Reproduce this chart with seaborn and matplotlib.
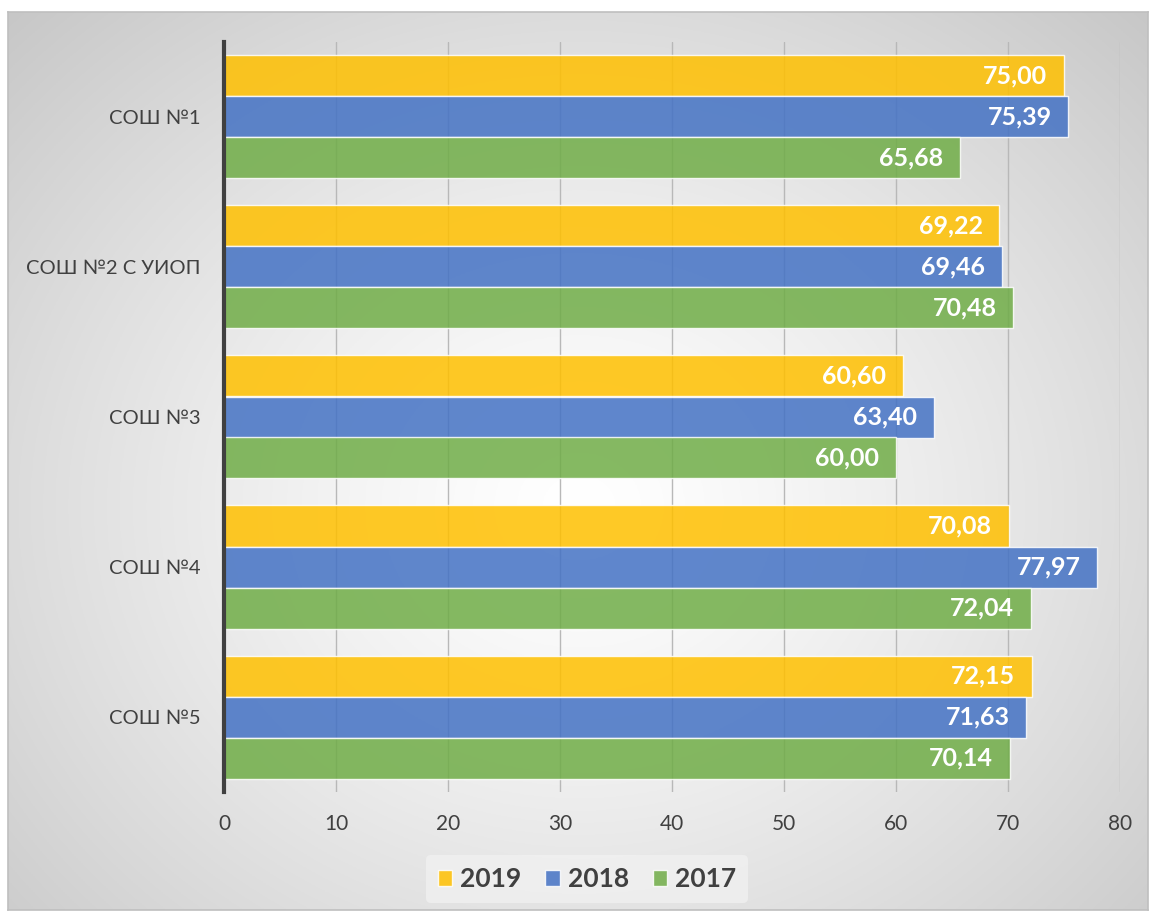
import numpy as np
import pandas as pd
import matplotlib
matplotlib.use("Agg")
import matplotlib.pyplot as plt
import seaborn as sns

categories = ["СОШ №1", "СОШ №2 С УИОП", "СОШ №3", "СОШ №4", "СОШ №5"]
years = ["2019", "2018", "2017"]
v2019 = [75.00, 69.22, 60.60, 70.08, 72.15]
v2018 = [75.39, 69.46, 63.40, 77.97, 71.63]
v2017 = [65.68, 70.48, 60.00, 72.04, 70.14]
colors = ["#FFC000", "#4472C4", "#70AD47"]
xticks = [0, 10, 20, 30, 40, 50, 60, 70, 80]

rows = []
for yr, vals in zip(years, [v2019, v2018, v2017]):
    for c, v in zip(categories, vals):
        rows.append({"school": c, "year": yr, "value": v})
df = pd.DataFrame(rows)

sns.set_theme(style="white")
plt.rcParams["font.family"] = ["Lato", "DejaVu Sans"]

W, H = 1151, 913
fig = plt.figure(figsize=(W / 100, H / 100), dpi=100)

# Background frame with radial gradient
bg = fig.add_axes([8 / W, 1 - 910 / H, 1140 / W, 898 / H], zorder=-5)
ny, nx = 400, 500
yy, xx = np.mgrid[0:ny, 0:nx]
cx, cy = nx * 0.5, ny * 0.55
r = np.sqrt(((xx - cx) / (nx * 0.5)) ** 2 + ((yy - cy) / (ny * 0.55)) ** 2) / np.sqrt(2)
r = np.clip(r, 0, 1)
val = 1.0 - 0.22 * r ** 1.3
bg.imshow(np.dstack([val, val, val]), aspect="auto", extent=[0, 1, 0, 1], origin="upper")
bg.set_xticks([]); bg.set_yticks([])
for s in bg.spines.values():
    s.set_color("#bfbfbf"); s.set_linewidth(1.2)

ax = fig.add_axes([224 / W, 1 - 792 / H, (1120 - 224) / W, (792 - 42) / H])
ax.set_facecolor("none")
sns.barplot(data=df, y="school", x="value", hue="year", hue_order=years,
            order=categories, palette=colors, orient="h", width=0.82,
            alpha=0.85, edgecolor=(1, 1, 1, 0.6), linewidth=1.0, ax=ax,
            saturation=1, errorbar=None, zorder=3)

ax.set_xlim(0, 80)
ax.set_xticks(xticks)
ax.set_xticklabels([str(t) for t in xticks], fontsize=15, color="#404040")
ax.tick_params(axis="x", length=0, pad=16)
ax.tick_params(axis="y", length=0, pad=17, labelsize=14.5, labelcolor="#404040")
ax.set_xlabel(""); ax.set_ylabel("")
ax.grid(axis="x", color="#b8b8b8", linewidth=1.0, zorder=0)
ax.set_axisbelow(True)
for k in ["top", "right", "bottom"]:
    ax.spines[k].set_visible(False)
ax.spines["left"].set_color("#404040")
ax.spines["left"].set_linewidth(3)
ax.spines["left"].set_zorder(5)

for cont in ax.containers:
    for p in cont.patches:
        w = p.get_width()
        ax.annotate(f"{w:.2f}".replace(".", ","),
                    xy=(w, p.get_y() + p.get_height() / 2),
                    xytext=(-12, 0), textcoords="offset points",
                    ha="right", va="center", color="white",
                    fontsize=18, fontweight="bold", zorder=6)

handles, labels = ax.get_legend_handles_labels()
ax.get_legend().remove()
leg = fig.legend(handles, labels, loc="center", bbox_to_anchor=(587 / W, 1 - 879 / H),
                 ncol=3, frameon=True, fontsize=19, handlelength=0.55, handleheight=0.55,
                 handletextpad=0.3, columnspacing=0.9, borderpad=0.45)
leg.get_frame().set_facecolor("#f2f2f2")
leg.get_frame().set_edgecolor("none")
leg.get_frame().set_alpha(0.7)
for t in leg.get_texts():
    t.set_fontweight("bold"); t.set_color("#404040")

fig.savefig("out.png", dpi=100)
